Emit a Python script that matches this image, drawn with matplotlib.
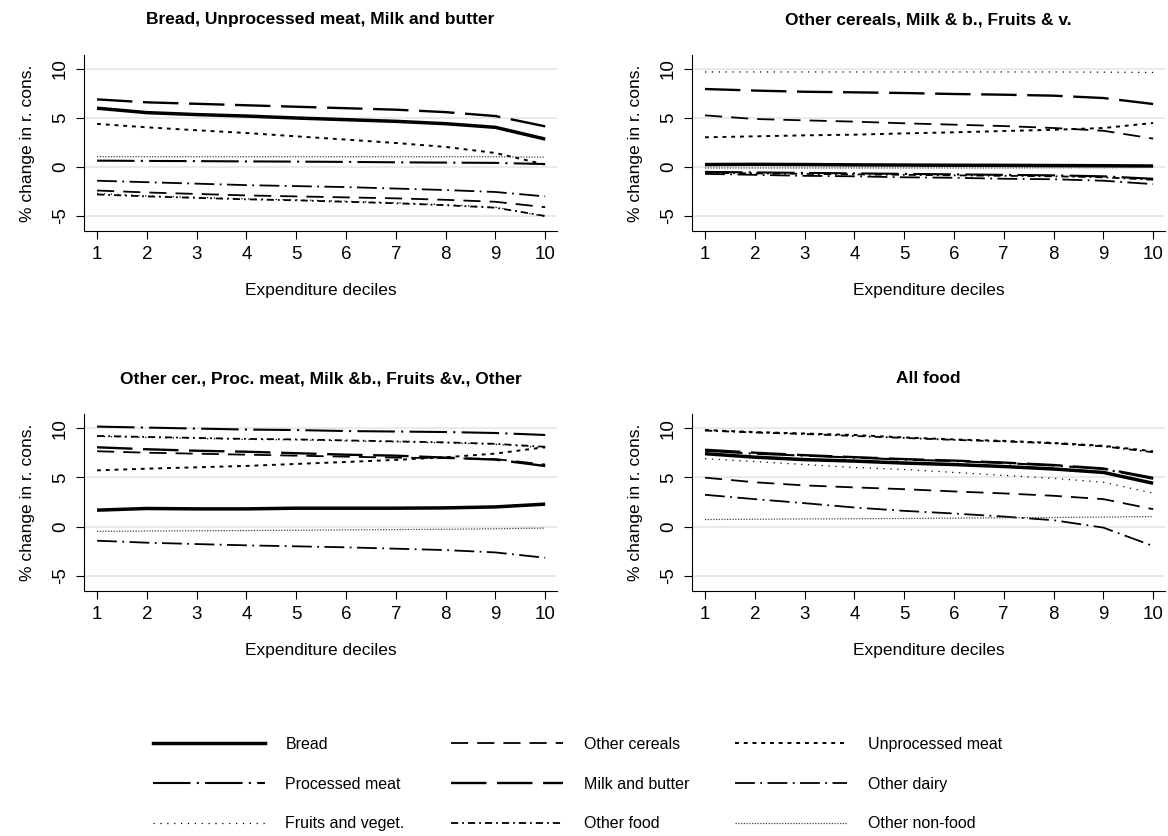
import matplotlib
matplotlib.use('Agg')
import matplotlib.pyplot as plt
from matplotlib.lines import Line2D

plt.rcParams['font.family'] = ['Liberation Sans', 'DejaVu Sans']

deciles = [1, 2, 3, 4, 5, 6, 7, 8, 9, 10]

titles = ['Bread, Unprocessed meat, Milk and butter',
          'Other cereals, Milk & b., Fruits & v.',
          'Other cer., Proc. meat, Milk &b., Fruits &v., Other',
          'All food']

# one row per panel (top-left, top-right, bottom-left, bottom-right)
bread = [[6.0, 5.55, 5.35, 5.2, 5.0, 4.83, 4.66, 4.42, 4.05, 2.85],
         [0.25, 0.27, 0.25, 0.22, 0.2, 0.18, 0.17, 0.15, 0.13, 0.1],
         [1.67, 1.84, 1.8, 1.8, 1.87, 1.87, 1.87, 1.9, 2.0, 2.28],
         [7.4, 7.05, 6.8, 6.65, 6.45, 6.3, 6.1, 5.85, 5.5, 4.4]]
other_cereals = [[-2.4, -2.6, -2.75, -2.9, -3.0, -3.1, -3.2, -3.35, -3.55, -4.1],
                 [5.27, 4.9, 4.76, 4.63, 4.46, 4.32, 4.18, 3.98, 3.7, 2.9],
                 [7.65, 7.5, 7.4, 7.3, 7.2, 7.1, 7.0, 6.95, 6.85, 6.3],
                 [4.97, 4.5, 4.18, 3.98, 3.8, 3.57, 3.37, 3.13, 2.79, 1.77]]
unproc_meat = [[4.4, 4.05, 3.75, 3.47, 3.13, 2.8, 2.45, 2.05, 1.43, 0.25],
               [3.03, 3.13, 3.23, 3.3, 3.43, 3.54, 3.67, 3.8, 3.98, 4.49],
               [5.71, 5.88, 6.02, 6.16, 6.36, 6.56, 6.77, 7.04, 7.41, 8.06],
               [9.8, 9.6, 9.45, 9.3, 9.05, 8.85, 8.7, 8.5, 8.2, 7.65]]
proc_meat = [[0.65, 0.62, 0.6, 0.57, 0.55, 0.52, 0.48, 0.45, 0.42, 0.3],
             [-0.5, -0.55, -0.6, -0.65, -0.7, -0.75, -0.8, -0.85, -0.95, -1.2],
             [10.15, 10.05, 9.95, 9.85, 9.8, 9.7, 9.65, 9.6, 9.5, 9.3],
             [7.7, 7.4, 7.2, 7.0, 6.8, 6.65, 6.45, 6.2, 5.85, 4.85]]
milk_butter = [[6.9, 6.6, 6.45, 6.3, 6.15, 6.0, 5.85, 5.6, 5.2, 4.15],
               [7.96, 7.8, 7.68, 7.62, 7.55, 7.45, 7.38, 7.28, 7.04, 6.43],
               [8.05, 7.85, 7.7, 7.6, 7.45, 7.3, 7.2, 7.0, 6.8, 6.15],
               [7.8, 7.5, 7.25, 7.05, 6.85, 6.7, 6.5, 6.25, 5.9, 4.95]]
other_dairy = [[-1.4, -1.55, -1.7, -1.85, -1.95, -2.05, -2.2, -2.35, -2.55, -3.0],
               [-0.7, -0.8, -0.9, -0.95, -1.05, -1.1, -1.2, -1.25, -1.4, -1.75],
               [-1.43, -1.63, -1.77, -1.9, -2.0, -2.1, -2.24, -2.38, -2.62, -3.16],
               [3.23, 2.79, 2.38, 1.94, 1.6, 1.33, 1.02, 0.65, -0.1, -1.97]]
fruits_veg = [[-2.7, -2.95, -3.1, -3.25, -3.35, -3.5, -3.65, -3.85, -4.1, -5.05],
              [9.7, 9.7, 9.7, 9.7, 9.7, 9.7, 9.7, 9.7, 9.68, 9.65],
              [9.15, 9.05, 8.95, 8.85, 8.8, 8.7, 8.6, 8.5, 8.35, 8.0],
              [6.9, 6.6, 6.3, 6.0, 5.8, 5.5, 5.2, 4.9, 4.5, 3.4]]
other_food = [[-2.8, -3.0, -3.15, -3.3, -3.4, -3.55, -3.7, -3.9, -4.15, -5.0],
              [-0.6, -0.65, -0.7, -0.75, -0.8, -0.85, -0.9, -0.95, -1.05, -1.3],
              [9.2, 9.1, 9.0, 8.9, 8.85, 8.75, 8.65, 8.55, 8.4, 8.1],
              [9.75, 9.55, 9.4, 9.2, 9.0, 8.8, 8.65, 8.45, 8.15, 7.55]]
other_nonfood = [[1.05, 1.05, 1.05, 1.05, 1.05, 1.05, 1.05, 1.05, 1.05, 1.0],
                 [-0.1, -0.1, -0.1, -0.1, -0.1, -0.1, -0.1, -0.08, -0.08, -0.05],
                 [-0.48, -0.45, -0.42, -0.4, -0.37, -0.33, -0.3, -0.27, -0.22, -0.15],
                 [0.72, 0.75, 0.78, 0.8, 0.83, 0.86, 0.9, 0.93, 0.97, 1.02]]

labels = ['Bread', 'Other cereals', 'Unprocessed meat',
          'Processed meat', 'Milk and butter', 'Other dairy',
          'Fruits and veget.', 'Other food', 'Other non-food']
series = [bread, other_cereals, unproc_meat, proc_meat, milk_butter,
          other_dairy, fruits_veg, other_food, other_nonfood]

# line styles (linewidth, dash pattern, colour)
styles = [
    dict(lw=2.5, ls='-', color='black'),
    dict(lw=1.3, ls=(0, (9.5, 5)), color='black'),
    dict(lw=1.4, ls=(0, (2, 2.5)), color='black'),
    dict(lw=1.5, ls=(0, (18, 3, 1, 3)), color='black'),
    dict(lw=1.7, ls=(0, (15, 4.5)), color='black'),
    dict(lw=1.3, ls=(0, (11, 3, 1, 3)), color='black'),
    dict(lw=0.9, ls=(0, (1, 4.5)), color='black'),
    dict(lw=1.3, ls=(0, (4, 2.2, 1, 2.2)), color='black'),
    dict(lw=0.9, ls=(0, (1, 1.2)), color='#444444'),
]

fig = plt.figure(figsize=(11.68, 8.36), dpi=100)
positions = [[0.072, 0.7237, 0.405, 0.2105],
             [0.5925, 0.7237, 0.405, 0.2105],
             [0.072, 0.2931, 0.405, 0.2117],
             [0.5925, 0.2931, 0.405, 0.2117]]

for p in range(4):
    ax = fig.add_axes(positions[p])
    for s, st in zip(series, styles):
        ax.plot(deciles, s[p], solid_capstyle='butt', dash_capstyle='butt', **st)
    ax.set_xlim(0.74, 10.24)
    ax.set_ylim(-6.53, 11.43)
    ax.set_xticks(deciles)
    ax.set_yticks([-5, 0, 5, 10])
    ax.set_yticklabels(['-5', '0', '5', '10'], rotation=90, va='center')
    ax.grid(axis='y', color='#e6e6e6', lw=1.2)
    ax.set_axisbelow(True)
    ax.spines['top'].set_visible(False)
    ax.spines['right'].set_visible(False)
    ax.tick_params(direction='out', length=6, labelsize=13.5, width=0.8, pad=5)
    ax.set_xlabel('Expenditure deciles', fontsize=12.5, labelpad=14)
    ax.set_ylabel('% change in r. cons.', fontsize=12.5, labelpad=12)
    ax.set_title(titles[p], fontsize=12.5, fontweight='bold', pad=22)

# legend is filled row by row in the reference; matplotlib fills column by column
order = [0, 3, 6, 1, 4, 7, 2, 5, 8]
handles = [Line2D([], [], **styles[i]) for i in order]
fig.legend(handles, [labels[i] for i in order], ncol=3, loc='upper left',
           bbox_to_anchor=(0.124, 0.128), frameon=False, fontsize=11.5,
           borderpad=0, handlelength=7.0, handletextpad=1.3,
           columnspacing=2.9, labelspacing=1.55)

plt.savefig('out.png', dpi=100)
